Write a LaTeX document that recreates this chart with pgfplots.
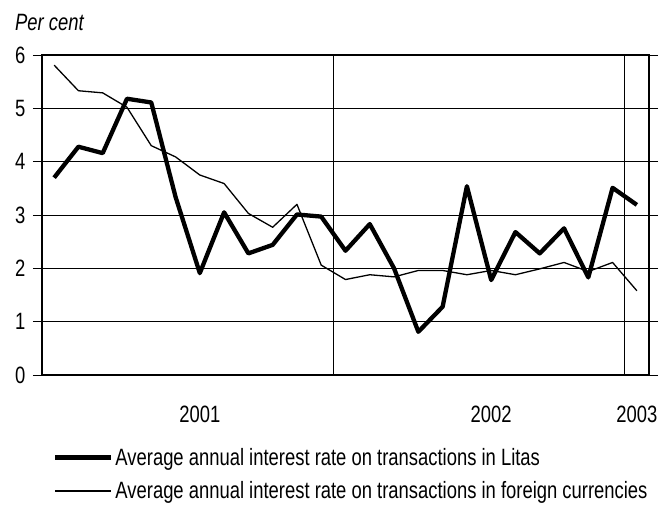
\documentclass[border=0pt]{standalone}
\usepackage{fontspec}
\setmainfont[FakeStretch=0.78]{Liberation Sans}
\usepackage{pgfplots}
\pgfplotsset{compat=1.18}
\pgfplotsset{
  legend image code/.code={\draw[#1] (0bp,0bp) -- (56bp,0bp);}
}
\begin{document}
\begin{tikzpicture}
\useasboundingbox (-42bp,-134bp) rectangle (628bp,375bp);
\begin{axis}[
  at={(0,0)}, anchor=south west,
  scale only axis,
  clip=false,
  width=607bp, height=320bp,
  xmin=-0.5, xmax=24.5,
  ymin=0, ymax=6,
  ytick={0,1,2,3,4,5,6},
  ymajorgrids,
  grid style={black, line width=0.7bp},
  xtick={6,18,24},
  xticklabels={2001,2002,2003},
  x tick style={draw=none},
  extra x ticks={-0.5,11.5,23.5},
  extra x tick labels={},
  extra x tick style={grid=major, major grid style={black, line width=0.8bp}, tick style={draw=black, line width=0.8bp}},
  tick align=outside,
  major tick length=9bp,
  y tick style={black, line width=0.8bp},
  axis line style={black, line width=1.2bp},
  ticklabel style={font=\fontsize{23.7}{27}\selectfont},
  /pgf/number format/assume math mode=true,
  yticklabel style={xshift=-4bp},
  xticklabel style={yshift=-18bp},
  legend style={
    at={(rel axis cs:0,0)}, anchor=north west,
    xshift=8bp, yshift=-69bp,
    draw=none, fill=none,
    font=\fontsize{23.7}{27}\selectfont,
    row sep=11bp,
    legend cell align=left,
    /tikz/every even column/.append style={column sep=2bp},
  },
]
\addplot[black, line width=4.3bp, line join=round] coordinates {
(0,3.70) (1,4.28) (2,4.16) (3,5.18) (4,5.11) (5,3.34) (6,1.91) (7,3.05)
(8,2.28) (9,2.44) (10,3.01) (11,2.97) (12,2.33) (13,2.83) (14,2.00)
(15,0.81) (16,1.28) (17,3.54) (18,1.78) (19,2.68) (20,2.28) (21,2.75)
(22,1.83) (23,3.51) (24,3.19)
};
\addlegendentry{Average annual interest rate on transactions in Litas}
\addplot[black, line width=1.3bp, line join=round] coordinates {
(0,5.81) (1,5.33) (2,5.29) (3,5.02) (4,4.30) (5,4.09) (6,3.75) (7,3.59)
(8,3.03) (9,2.77) (10,3.20) (11,2.06) (12,1.79) (13,1.88) (14,1.84)
(15,1.96) (16,1.96) (17,1.88) (18,1.96) (19,1.88) (20,1.99) (21,2.11)
(22,1.94) (23,2.11) (24,1.58)
};
\addlegendentry{Average annual interest rate on transactions in foreign currencies}
\node[anchor=base west, inner sep=0pt, font=\fontsize{23.7}{27}\selectfont\itshape]
  at (rel axis cs:0,1) [xshift=-27bp, yshift=25bp] {Per cent};
\end{axis}
\end{tikzpicture}
\end{document}
